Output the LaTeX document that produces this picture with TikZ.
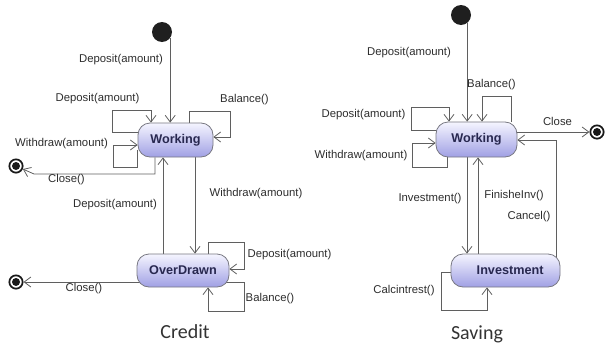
\documentclass[tikz,border=0pt]{standalone}
\usepackage{fontspec}
\setmainfont{Liberation Sans}
\newfontfamily\capfont{Carlito}
\usetikzlibrary{arrows.meta,calc,backgrounds}
\definecolor{linec}{RGB}{95,95,95}
\definecolor{borderc}{RGB}{120,120,130}
\definecolor{stxt}{RGB}{40,40,80}
\definecolor{lblc}{RGB}{45,45,45}
\definecolor{shadetop}{RGB}{245,245,255}
\definecolor{shadebot}{RGB}{160,160,228}
\tikzset{
  statebox/.style={rectangle, rounded corners=9pt, draw=borderc, line width=0.6pt,
    top color=shadetop, bottom color=shadebot, text=stxt,
    font=\fontsize{9.5}{11}\selectfont\bfseries, inner sep=0pt},
  initst/.style={circle, fill=black!88, minimum size=15pt, inner sep=0pt},
  finalst/.style={circle, draw=black!90, line width=1.3pt, fill=white, minimum size=10pt, inner sep=0pt,
    path picture={\fill[black!90] (path picture bounding box.center) circle (3pt);}},
  arr/.style={draw=linec, line width=0.6pt, -{Straight Barb[length=5pt,width=7.5pt]}},
  ln/.style={draw=linec, line width=0.6pt},
  lbl/.style={text=lblc, font=\fontsize{8.5}{10}\selectfont, inner sep=0pt},
  capt/.style={text=black!80, font=\capfont\fontsize{15}{18}\selectfont, inner sep=0pt}
}
\begin{document}
\begin{tikzpicture}[x=0.75pt,y=-0.75pt]
\useasboundingbox (0,0) rectangle (608,343);
% ---------- Credit ----------
\node[initst] (i1) at (162,32) {};
\node[statebox, minimum width=56.25pt, minimum height=25.5pt] (w1) at (175.5,140) {Working};
\node[statebox, minimum width=69pt, minimum height=24.75pt] (o1) at (183,270.5) {OverDrawn};
\node[finalst] (f1) at (16,166) {};
\node[finalst] (f2) at (16,282) {};
% ---------- Saving ----------
\node[initst] (i2) at (461,15) {};
\node[statebox, minimum width=60.75pt, minimum height=26.25pt] (w2) at (476.5,139.5) {Working};
\node[statebox, minimum width=81.75pt, minimum height=24.75pt] (o2) at (505.5,270.5) {\hspace*{7pt}Investment};
\node[finalst] (f3) at (597,132) {};

\begin{pgfonlayer}{background}
% Credit edges
\draw[arr] (i1.-37) -- (i1.-37 |- w1.north);
\draw[arr] (w1.center |- 0,132) -| (112,110) -| (w1.north -| 151,0);
\draw[arr] (w1.west |- 0,150) |- (113,167) |- (w1.west |- 0,145);
\draw[arr] (w1.north -| 189,0) |- (230,111) |- (w1.east |- 0,137);
\draw[arr] (w1.south -| 155,0) |- (34,174) -- (f1);
\draw[arr] (o1.north -| 163,0) -- (w1.south -| 163,0);
\draw[arr] (w1.south -| 195,0) -- (o1.north -| 195,0);
\draw[arr] (o1.north -| 208,0) |- (244,242) |- (o1.east |- 0,269);
\draw[arr] (o1.center |- 0,282) -| (244,311) -| (o1.south -| 208,0);
\draw[arr] (o1.center |- f2) -- (f2);
% Saving edges
\draw[arr] (i2.-53) -- (i2.-53 |- w2.north);
\draw[arr] (w2.north -| 511,0) |- (482,96) -- (w2.north -| 482,0);
\draw[arr] (w2.center |- 0,130) -| (411,107) -| (w2.north -| 449,0);
\draw[arr] (w2.south -| 447,0) |- (412,167) |- (w2.west |- 0,143);
\draw[arr] (w2.center |- f3) -- (f3);
\draw[arr] (w2.south -| 467,0) -- (o2.north -| 467,0);
\draw[arr] (o2.north -| 478,0) -- (w2.south -| 478,0);
\draw[arr] (o2.center -| 556,0) |- (w2.east |- 0,140);
\draw[arr] (o2.center |- 0,272) -| (441,310) -| (o2.south -| 487,0);
\end{pgfonlayer}

% Credit labels
\node[lbl] (l1) at (121,60) {Deposit(amount)};
\node[lbl] (l2) at (97.5,99) {Deposit(amount)};
\node[lbl] (l3) at (244.5,100) {Balance()};
\node[lbl] (l4) at (61.5,144) {Withdraw(amount)};
\node[lbl] (l5) at (66.5,180) {Close()};
\node[lbl] (l6) at (115,205) {Deposit(amount)};
\node[lbl] (l7) at (256,194) {Withdraw(amount)};
\node[lbl] (l8) at (289.5,255) {Deposit(amount)};
\node[lbl] (l9) at (270,299) {Balance()};
\node[lbl] (l10) at (84,289) {Close()};
\node[capt] (c1) at (185,332) {Credit};
% Saving labels
\node[lbl] (s1) at (409,53) {Deposit(amount)};
\node[lbl] (s2) at (491.5,85) {Balance()};
\node[lbl] (s3) at (363.5,115) {Deposit(amount)};
\node[lbl] (s4) at (361,156) {Withdraw(amount)};
\node[lbl] (s5) at (557.5,121) {Close};
\node[lbl] (s6) at (430,199) {Investment()};
\node[lbl] (s7) at (514,196) {FinisheInv()};
\node[lbl] (s8) at (529,217) {Cancel()};
\node[lbl] (s9) at (404,291) {Calcintrest()};
\node[capt] (c2) at (477,334) {Saving};
\end{tikzpicture}
\end{document}
